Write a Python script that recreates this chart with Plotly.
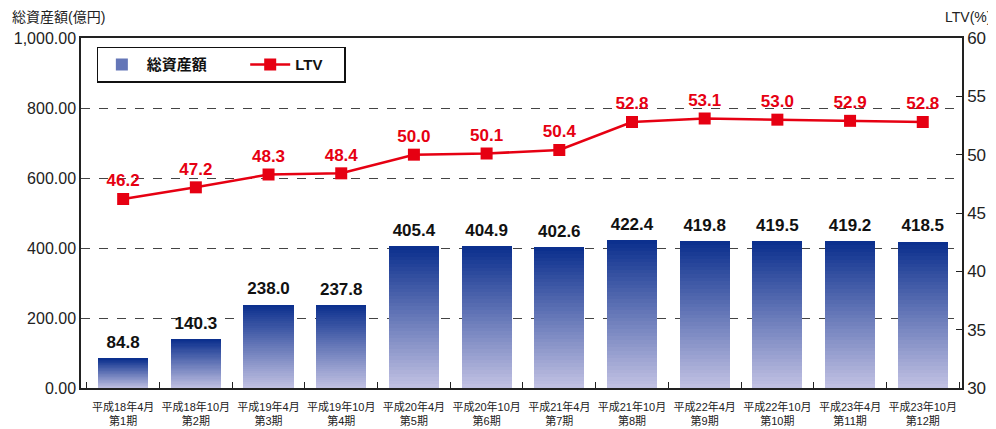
import plotly.graph_objects as go

periods = ["平成18年4月<br>第1期", "平成18年10月<br>第2期", "平成19年4月<br>第3期", "平成19年10月<br>第4期",
           "平成20年4月<br>第5期", "平成20年10月<br>第6期", "平成21年4月<br>第7期", "平成21年10月<br>第8期",
           "平成22年4月<br>第9期", "平成22年10月<br>第10期", "平成23年4月<br>第11期", "平成23年10月<br>第12期"]
total_assets = [84.8, 140.3, 238.0, 237.8, 405.4, 404.9, 402.6, 422.4, 419.8, 419.5, 419.2, 418.5]
ltv = [46.2, 47.2, 48.3, 48.4, 50.0, 50.1, 50.4, 52.8, 53.1, 53.0, 52.9, 52.8]

FONT = "Liberation Sans, Noto Sans CJK JP, sans-serif"
RED = "#e60012"
TOP = (12, 48, 142)
BOT = (192, 192, 226)
N = 40

fig = go.Figure()
for k in range(N):
    t = k / (N - 1)  # 0 bottom, 1 top
    c = tuple(round(BOT[i] + (TOP[i] - BOT[i]) * t) for i in range(3))
    fig.add_trace(go.Bar(
        x=periods, y=[v / N for v in total_assets],
        marker=dict(color="rgb(%d,%d,%d)" % c, line=dict(width=0)),
        name="総資産額&nbsp;&nbsp;&nbsp;&nbsp;&nbsp;&nbsp;&nbsp;&nbsp;", showlegend=(k == N // 2),
        legendgroup="assets", hoverinfo="skip", yaxis="y",
    ))

# value labels above the bars (invisible marker pushes text up a little)
fig.add_trace(go.Scatter(
    x=periods, y=total_assets, mode="markers+text",
    marker=dict(size=8, opacity=0),
    text=["%.1f" % v for v in total_assets], textposition="top center",
    textfont=dict(family=FONT, size=17, color="#111111", weight="bold"),
    showlegend=False, cliponaxis=False, hoverinfo="skip", yaxis="y",
))

fig.add_trace(go.Scatter(
    x=periods, y=ltv, mode="lines+markers+text", name="LTV&nbsp;&nbsp;&nbsp;&nbsp;",
    line=dict(color=RED, width=2.5),
    marker=dict(symbol="square", size=12, color=RED),
    text=["%.1f" % v for v in ltv], textposition="top center",
    textfont=dict(family=FONT, size=17, color=RED, weight="bold"),
    cliponaxis=False, yaxis="y2",
))

# page body has an 8px margin; figure is sized/margined to compensate
fig.update_layout(
    width=988, height=421,
    margin=dict(l=73, r=34, t=30, b=41),
    plot_bgcolor="white", paper_bgcolor="white",
    barmode="stack", bargap=0.31,
    font=dict(family=FONT, color="#222222"),
    xaxis=dict(
        range=[-0.58, 11.54], showline=True, linecolor="#222222", linewidth=1.5, mirror=True,
        ticks="inside", tickson="boundaries", ticklen=6, tickcolor="#222222",
        tickfont=dict(size=11, color="#222222"), showgrid=False, tickangle=0, automargin=False,
        ticklabelstandoff=8,
    ),
    yaxis=dict(
        range=[0, 1000], dtick=200, tickformat=",.2f", showline=True, linecolor="#222222", linewidth=1.5,
        showgrid=True, gridcolor="#444444", griddash="dash", gridwidth=1,
        ticks="", tickfont=dict(size=16, color="#222222"), zeroline=False, automargin=False,
    ),
    yaxis2=dict(
        range=[30, 60], dtick=5, overlaying="y", side="right", showgrid=False,
        showline=True, linecolor="#222222", linewidth=1.5,
        ticks="inside", ticklen=6, tickcolor="#222222",
        tickfont=dict(size=17, color="#222222"), zeroline=False, automargin=False,
    ),
    legend=dict(
        orientation="h", x=0.018, y=0.975, xanchor="left", yanchor="top",
        bgcolor="white", bordercolor="#111111", borderwidth=1.5,
        font=dict(size=15, color="#111111", weight="bold"), itemwidth=40,
    ),
    annotations=[
        dict(text="総資産額(億円)", xref="paper", yref="paper", x=-0.081, y=1.06,
             xanchor="left", yanchor="middle", showarrow=False, font=dict(size=14, color="#222222")),
        dict(text="LTV(%)", xref="paper", yref="paper", x=1.035, y=1.06,
             xanchor="right", yanchor="middle", showarrow=False, font=dict(size=14, color="#222222")),
    ],
)

fig.write_html("out.html")
